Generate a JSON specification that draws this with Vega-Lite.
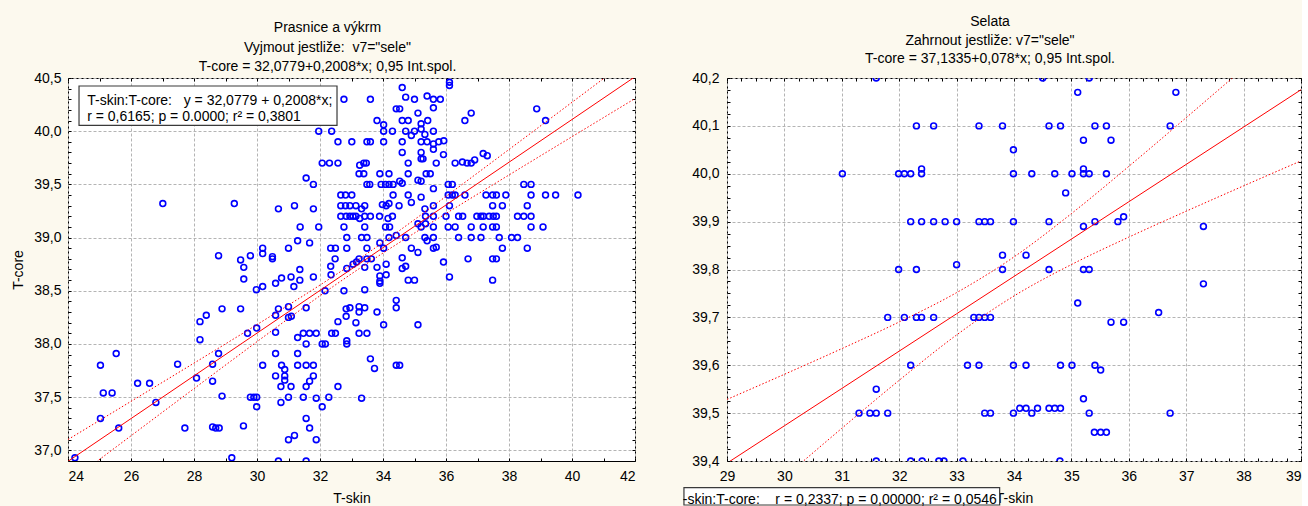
{
"$schema": "https://vega.github.io/schema/vega-lite/v6.json",
"background": "#fcf9ee",
"padding": {"left": 11, "top": 14, "right": 0, "bottom": 0},
"spacing": 46,
"datasets": {
"left_pts": [
{"skin":32.76,"core":40.3},{"skin":31.96,"core":40.0},{"skin":32.37,"core":40.0},{"skin":32.57,"core":39.9},{"skin":32.07,"core":39.7},{"skin":32.30,"core":39.7},{"skin":32.57,"core":39.7},{"skin":31.56,"core":39.56},{"skin":31.79,"core":39.5},{"skin":32.66,"core":39.4},{"skin":32.81,"core":39.4},{"skin":32.66,"core":39.3},{"skin":32.81,"core":39.3},{"skin":32.66,"core":39.2},{"skin":32.83,"core":39.2},{"skin":27.01,"core":39.32},{"skin":29.28,"core":39.32},{"skin":30.68,"core":39.27},{"skin":31.19,"core":39.3},{"skin":31.79,"core":39.27},{"skin":31.37,"core":39.1},{"skin":31.96,"core":39.1},{"skin":32.76,"core":39.1},{"skin":32.85,"core":39.0},{"skin":31.29,"core":38.97},{"skin":31.67,"core":38.95},{"skin":31.0,"core":38.9},{"skin":32.34,"core":38.9},{"skin":32.49,"core":38.9},{"skin":32.85,"core":38.9},{"skin":30.18,"core":38.9},{"skin":30.18,"core":38.85},{"skin":30.49,"core":38.8},{"skin":30.49,"core":38.82},{"skin":29.79,"core":38.83},{"skin":29.48,"core":38.79},{"skin":28.78,"core":38.83},{"skin":29.58,"core":38.72},{"skin":29.58,"core":38.61},{"skin":32.48,"core":38.8},{"skin":32.34,"core":38.73},{"skin":32.85,"core":38.71},{"skin":31.36,"core":38.7},{"skin":31.08,"core":38.63},{"skin":31.36,"core":38.6},{"skin":31.79,"core":38.63},{"skin":30.78,"core":38.62},{"skin":30.59,"core":38.57},{"skin":30.18,"core":38.54},{"skin":29.98,"core":38.51},{"skin":31.17,"core":38.54},{"skin":32.35,"core":38.65},{"skin":32.16,"core":38.5},{"skin":32.76,"core":38.5},{"skin":28.89,"core":38.33},{"skin":29.48,"core":38.33},{"skin":28.39,"core":38.27},{"skin":28.19,"core":38.21},{"skin":28.19,"core":38.04},{"skin":30.68,"core":38.33},{"skin":31.0,"core":38.35},{"skin":31.0,"core":38.25},{"skin":31.09,"core":38.26},{"skin":30.59,"core":38.27},{"skin":31.56,"core":38.34},{"skin":30.59,"core":38.11},{"skin":29.7,"core":38.1},{"skin":29.99,"core":38.15},{"skin":31.29,"core":38.06},{"skin":31.47,"core":38.1},{"skin":31.67,"core":38.1},{"skin":31.88,"core":38.1},{"skin":31.56,"core":38.0},{"skin":32.07,"core":38.0},{"skin":32.17,"core":38.0},{"skin":32.37,"core":38.1},{"skin":32.49,"core":38.1},{"skin":32.57,"core":38.21},{"skin":32.83,"core":38.26},{"skin":32.83,"core":38.33},{"skin":32.85,"core":38.03},{"skin":32.85,"core":38.0},{"skin":25.53,"core":37.91},{"skin":25.03,"core":37.8},{"skin":27.48,"core":37.81},{"skin":28.78,"core":37.91},{"skin":28.59,"core":37.81},{"skin":30.59,"core":37.91},{"skin":31.29,"core":37.91},{"skin":30.18,"core":37.8},{"skin":30.78,"core":37.8},{"skin":31.29,"core":37.8},{"skin":31.56,"core":37.8},{"skin":31.79,"core":37.8},{"skin":30.88,"core":37.76},{"skin":30.59,"core":37.7},{"skin":30.88,"core":37.7},{"skin":30.88,"core":37.66},{"skin":31.79,"core":37.7},{"skin":31.67,"core":37.65},{"skin":28.08,"core":37.68},{"skin":28.59,"core":37.65},{"skin":26.21,"core":37.63},{"skin":26.59,"core":37.63},{"skin":25.12,"core":37.54},{"skin":25.4,"core":37.54},{"skin":26.79,"core":37.45},{"skin":28.89,"core":37.51},{"skin":29.79,"core":37.5},{"skin":29.9,"core":37.5},{"skin":29.99,"core":37.5},{"skin":29.99,"core":37.41},{"skin":30.76,"core":37.6},{"skin":31.08,"core":37.6},{"skin":31.56,"core":37.6},{"skin":32.57,"core":37.6},{"skin":31.0,"core":37.5},{"skin":30.76,"core":37.45},{"skin":31.47,"core":37.5},{"skin":31.88,"core":37.49},{"skin":32.28,"core":37.5},{"skin":32.07,"core":37.41},{"skin":25.03,"core":37.3},{"skin":25.61,"core":37.21},{"skin":27.71,"core":37.21},{"skin":28.59,"core":37.22},{"skin":28.69,"core":37.21},{"skin":28.8,"core":37.21},{"skin":29.57,"core":37.23},{"skin":31.56,"core":37.3},{"skin":31.67,"core":37.21},{"skin":31.0,"core":37.1},{"skin":31.19,"core":37.14},{"skin":31.88,"core":37.1},{"skin":24.22,"core":36.93},{"skin":29.2,"core":36.93},{"skin":30.68,"core":36.9},{"skin":31.56,"core":36.9},
{"skin":33.6,"core":40.3},{"skin":34.61,"core":40.41},{"skin":36.11,"core":40.46},{"skin":36.11,"core":40.43},{"skin":34.72,"core":40.32},{"skin":35.0,"core":40.3},{"skin":35.4,"core":40.33},{"skin":35.6,"core":40.3},{"skin":35.82,"core":40.3},{"skin":35.6,"core":40.22},{"skin":34.42,"core":40.21},{"skin":34.53,"core":40.21},{"skin":35.11,"core":40.17},{"skin":33.81,"core":40.1},{"skin":34.02,"core":40.06},{"skin":34.02,"core":40.0},{"skin":34.3,"core":40.0},{"skin":34.61,"core":40.1},{"skin":34.8,"core":40.1},{"skin":34.72,"core":40.0},{"skin":34.9,"core":39.96},{"skin":35.0,"core":40.0},{"skin":35.21,"core":40.07},{"skin":35.21,"core":40.02},{"skin":35.33,"core":39.97},{"skin":35.42,"core":40.1},{"skin":35.6,"core":40.0},{"skin":33.01,"core":39.9},{"skin":33.49,"core":39.9},{"skin":33.6,"core":39.9},{"skin":34.02,"core":39.9},{"skin":34.61,"core":39.9},{"skin":35.21,"core":39.9},{"skin":35.4,"core":39.9},{"skin":35.6,"core":39.88},{"skin":35.77,"core":39.9},{"skin":35.93,"core":39.91},{"skin":35.6,"core":39.83},{"skin":34.61,"core":39.8},{"skin":35.21,"core":39.8},{"skin":35.21,"core":39.74},{"skin":35.27,"core":39.74},{"skin":34.8,"core":39.7},{"skin":35.69,"core":39.7},{"skin":35.92,"core":39.78},{"skin":36.29,"core":39.7},{"skin":36.52,"core":39.71},{"skin":36.67,"core":39.7},{"skin":36.8,"core":39.7},{"skin":36.91,"core":39.73},{"skin":37.18,"core":39.79},{"skin":37.31,"core":39.77},{"skin":36.6,"core":40.1},{"skin":36.8,"core":40.17},{"skin":38.88,"core":40.21},{"skin":39.16,"core":40.1},{"skin":33.39,"core":39.7},{"skin":33.47,"core":39.7},{"skin":33.26,"core":39.68},{"skin":33.24,"core":39.6},{"skin":33.39,"core":39.6},{"skin":33.9,"core":39.6},{"skin":34.19,"core":39.6},{"skin":34.8,"core":39.6},{"skin":35.37,"core":39.6},{"skin":35.5,"core":39.6},{"skin":33.49,"core":39.5},{"skin":33.58,"core":39.5},{"skin":33.94,"core":39.5},{"skin":34.08,"core":39.5},{"skin":34.19,"core":39.5},{"skin":34.32,"core":39.5},{"skin":34.53,"core":39.53},{"skin":34.61,"core":39.51},{"skin":35.11,"core":39.54},{"skin":35.21,"core":39.53},{"skin":35.6,"core":39.46},{"skin":33.01,"core":39.4},{"skin":34.32,"core":39.4},{"skin":34.8,"core":39.4},{"skin":34.9,"core":39.33},{"skin":35.21,"core":39.38},{"skin":36.07,"core":39.5},{"skin":36.2,"core":39.5},{"skin":36.07,"core":39.4},{"skin":36.2,"core":39.4},{"skin":36.29,"core":39.4},{"skin":36.6,"core":39.4},{"skin":37.27,"core":39.4},{"skin":37.48,"core":39.4},{"skin":37.6,"core":39.4},{"skin":37.9,"core":39.4},{"skin":38.47,"core":39.5},{"skin":38.7,"core":39.5},{"skin":38.7,"core":39.4},{"skin":39.16,"core":39.4},{"skin":39.48,"core":39.4},{"skin":40.19,"core":39.4},{"skin":32.95,"core":39.3},{"skin":33.14,"core":39.3},{"skin":33.32,"core":39.27},{"skin":33.42,"core":39.3},{"skin":33.98,"core":39.31},{"skin":34.1,"core":39.3},{"skin":34.19,"core":39.32},{"skin":34.51,"core":39.3},{"skin":35.33,"core":39.27},{"skin":35.6,"core":39.3},{"skin":36.11,"core":39.3},{"skin":37.48,"core":39.3},{"skin":37.79,"core":39.3},{"skin":38.58,"core":39.3},{"skin":32.95,"core":39.2},{"skin":33.05,"core":39.2},{"skin":33.14,"core":39.2},{"skin":33.26,"core":39.18},{"skin":33.42,"core":39.2},{"skin":33.6,"core":39.2},{"skin":33.89,"core":39.2},{"skin":34.16,"core":39.18},{"skin":34.3,"core":39.2},{"skin":35.35,"core":39.2},{"skin":35.6,"core":39.2},{"skin":36.0,"core":39.2},{"skin":36.4,"core":39.2},{"skin":36.53,"core":39.2},{"skin":36.98,"core":39.2},{"skin":37.11,"core":39.2},{"skin":37.19,"core":39.2},{"skin":37.37,"core":39.2},{"skin":37.5,"core":39.2},{"skin":37.6,"core":39.2},{"skin":38.27,"core":39.2},{"skin":38.47,"core":39.2},{"skin":38.7,"core":39.2},{"skin":33.42,"core":39.1},{"skin":34.08,"core":39.1},{"skin":34.21,"core":39.1},{"skin":35.11,"core":39.13},{"skin":35.21,"core":39.1},{"skin":35.35,"core":39.13},{"skin":35.6,"core":39.1},{"skin":36.07,"core":39.1},{"skin":36.29,"core":39.1},{"skin":36.8,"core":39.1},{"skin":37.18,"core":39.1},{"skin":37.48,"core":39.1},{"skin":37.6,"core":39.1},{"skin":38.7,"core":39.1},{"skin":39.08,"core":39.1},{"skin":33.32,"core":39.0},{"skin":33.49,"core":39.0},{"skin":34.19,"core":39.0},{"skin":34.42,"core":39.02},{"skin":34.72,"core":39.0},{"skin":35.33,"core":39.0},{"skin":35.6,"core":39.0},{"skin":36.4,"core":39.0},{"skin":36.8,"core":39.0},{"skin":37.11,"core":39.0},{"skin":37.69,"core":39.0},{"skin":38.08,"core":39.0},{"skin":38.27,"core":39.0},{"skin":35.4,"core":38.97},{"skin":33.9,"core":38.95},{"skin":33.49,"core":38.9},{"skin":34.02,"core":38.9},{"skin":34.9,"core":38.9},{"skin":35.11,"core":38.86},{"skin":35.6,"core":38.9},{"skin":35.69,"core":38.91},{"skin":37.79,"core":38.9},{"skin":38.58,"core":38.9},{"skin":33.24,"core":38.8},{"skin":33.16,"core":38.77},{"skin":33.49,"core":38.8},{"skin":33.63,"core":38.8},{"skin":33.05,"core":38.75},{"skin":33.42,"core":38.72},{"skin":34.1,"core":38.75},{"skin":34.61,"core":38.81},{"skin":34.61,"core":38.71},{"skin":34.72,"core":38.73},{"skin":35.92,"core":38.77},{"skin":36.7,"core":38.8},{"skin":37.48,"core":38.8},{"skin":37.6,"core":38.8},{"skin":33.81,"core":38.72},{"skin":33.9,"core":38.64},{"skin":33.9,"core":38.59},{"skin":33.9,"core":38.57},{"skin":34.1,"core":38.65},{"skin":34.8,"core":38.6},{"skin":35.0,"core":38.6},{"skin":36.11,"core":38.63},{"skin":37.48,"core":38.6},{"skin":33.42,"core":38.51},{"skin":32.95,"core":38.34},{"skin":33.24,"core":38.35},{"skin":33.24,"core":38.3},{"skin":33.42,"core":38.34},{"skin":33.14,"core":38.2},{"skin":33.81,"core":38.3},{"skin":34.42,"core":38.41},{"skin":34.42,"core":38.34},{"skin":34.02,"core":38.18},{"skin":35.11,"core":38.18},{"skin":33.24,"core":38.1},{"skin":33.49,"core":38.1},{"skin":33.6,"core":37.86},{"skin":33.73,"core":37.77},{"skin":34.42,"core":37.8},{"skin":34.53,"core":37.8},{"skin":33.32,"core":37.49}
],
"right_pts": [
{"skin":31.6,"core":40.2},{"skin":32.3,"core":40.1},{"skin":32.6,"core":40.1},{"skin":33.39,"core":40.1},{"skin":33.8,"core":40.1},{"skin":33.99,"core":40.05},{"skin":31.01,"core":40.0},{"skin":31.99,"core":40.0},{"skin":32.09,"core":40.0},{"skin":32.2,"core":40.0},{"skin":32.39,"core":40.01},{"skin":32.39,"core":40.0},{"skin":33.99,"core":40.0},{"skin":32.2,"core":39.9},{"skin":32.39,"core":39.9},{"skin":32.6,"core":39.9},{"skin":32.8,"core":39.9},{"skin":33.0,"core":39.9},{"skin":33.39,"core":39.9},{"skin":33.49,"core":39.9},{"skin":33.59,"core":39.9},{"skin":33.99,"core":39.9},{"skin":33.8,"core":39.83},{"skin":31.99,"core":39.8},{"skin":32.3,"core":39.8},{"skin":33.0,"core":39.81},{"skin":33.8,"core":39.8},{"skin":31.8,"core":39.7},{"skin":32.09,"core":39.7},{"skin":32.3,"core":39.7},{"skin":32.39,"core":39.7},{"skin":32.6,"core":39.7},{"skin":33.3,"core":39.7},{"skin":33.39,"core":39.7},{"skin":33.49,"core":39.7},{"skin":33.59,"core":39.7},{"skin":32.2,"core":39.6},{"skin":33.19,"core":39.6},{"skin":33.39,"core":39.6},{"skin":33.99,"core":39.6},{"skin":31.6,"core":39.55},{"skin":31.3,"core":39.5},{"skin":31.49,"core":39.5},{"skin":31.6,"core":39.5},{"skin":31.8,"core":39.5},{"skin":33.49,"core":39.5},{"skin":33.59,"core":39.5},{"skin":33.99,"core":39.5},{"skin":31.6,"core":39.4},{"skin":32.2,"core":39.4},{"skin":32.4,"core":39.4},{"skin":32.69,"core":39.4},{"skin":32.78,"core":39.4},{"skin":33.11,"core":39.4},{"skin":34.8,"core":39.4},
{"skin":34.5,"core":40.2},{"skin":35.31,"core":40.2},{"skin":35.11,"core":40.17},{"skin":36.82,"core":40.17},{"skin":34.61,"core":40.1},{"skin":34.81,"core":40.1},{"skin":35.41,"core":40.1},{"skin":35.61,"core":40.1},{"skin":36.72,"core":40.1},{"skin":35.21,"core":40.07},{"skin":35.69,"core":40.07},{"skin":34.31,"core":40.0},{"skin":34.71,"core":40.0},{"skin":35.01,"core":40.0},{"skin":35.21,"core":40.0},{"skin":35.31,"core":40.0},{"skin":35.61,"core":40.0},{"skin":35.21,"core":40.01},{"skin":34.9,"core":39.96},{"skin":34.61,"core":39.9},{"skin":35.41,"core":39.9},{"skin":35.81,"core":39.9},{"skin":35.21,"core":39.89},{"skin":35.91,"core":39.91},{"skin":37.3,"core":39.89},{"skin":34.21,"core":39.83},{"skin":34.61,"core":39.8},{"skin":35.21,"core":39.8},{"skin":35.31,"core":39.8},{"skin":37.3,"core":39.77},{"skin":35.11,"core":39.73},{"skin":36.52,"core":39.71},{"skin":35.69,"core":39.69},{"skin":35.91,"core":39.69},{"skin":34.21,"core":39.6},{"skin":34.81,"core":39.6},{"skin":35.01,"core":39.6},{"skin":35.41,"core":39.6},{"skin":35.51,"core":39.59},{"skin":35.21,"core":39.53},{"skin":34.1,"core":39.51},{"skin":34.21,"core":39.51},{"skin":34.41,"core":39.51},{"skin":34.61,"core":39.51},{"skin":34.71,"core":39.51},{"skin":34.81,"core":39.51},{"skin":34.31,"core":39.5},{"skin":35.31,"core":39.5},{"skin":36.72,"core":39.5},{"skin":35.4,"core":39.46},{"skin":35.51,"core":39.46},{"skin":35.61,"core":39.46}
],
"left_fit": [
{"skin":24,"fit":36.8971,"lo":36.6923,"hi":37.1019},{"skin":26,"fit":37.2987,"lo":37.1369,"hi":37.4605},{"skin":28,"fit":37.7003,"lo":37.5805,"hi":37.8201},{"skin":30,"fit":38.1019,"lo":38.0215,"hi":38.1823},{"skin":31,"fit":38.3027,"lo":38.2395,"hi":38.3659},{"skin":32,"fit":38.5035,"lo":38.4533,"hi":38.5537},{"skin":33,"fit":38.7043,"lo":38.6593,"hi":38.7493},{"skin":34,"fit":38.9051,"lo":38.8549,"hi":38.9553},{"skin":35,"fit":39.1059,"lo":39.0427,"hi":39.1691},{"skin":36,"fit":39.3067,"lo":39.2263,"hi":39.3871},{"skin":38,"fit":39.7083,"lo":39.5885,"hi":39.8281},{"skin":40,"fit":40.1099,"lo":39.9481,"hi":40.2717},{"skin":42,"fit":40.5115,"lo":40.3067,"hi":40.7163}
],
"right_fit": [
{"skin":29,"fit":39.3955,"lo":39.2624,"hi":39.5286},{"skin":30,"fit":39.4735,"lo":39.3659,"hi":39.5811},{"skin":31,"fit":39.5515,"lo":39.4683,"hi":39.6347},{"skin":32,"fit":39.6295,"lo":39.5686,"hi":39.6904},{"skin":33,"fit":39.7075,"lo":39.6633,"hi":39.7517},{"skin":34,"fit":39.7855,"lo":39.7447,"hi":39.8263},{"skin":35,"fit":39.8635,"lo":39.8103,"hi":39.9167},{"skin":36,"fit":39.9415,"lo":39.8676,"hi":40.0154},{"skin":37,"fit":40.0195,"lo":39.9218,"hi":40.1172},{"skin":38,"fit":40.0975,"lo":39.9747,"hi":40.2203},{"skin":39,"fit":40.1755,"lo":40.0269,"hi":40.3241}
],
"left_note": [{"note": "T-skin:T-core:\u00a0\u00a0\u00a0y = 32,0779 + 0,2008*x;\nr = 0,6165; p = 0.0000; r² = 0,3801"}],
"right_note": [{"note": "-skin:T-core:\u00a0\u00a0\u00a0\u00a0r = 0,2337; p = 0,00000; r² = 0,0546"}]
},
"hconcat": [
{
"width": 567, "height": 383,
"title": {"text": ["Prasnice a výkrm", "Vyjmout jestliže:\u00a0\u00a0v7=\"sele\"", "T-core = 32,0779+0,2008*x; 0,95 Int.spol."], "lineHeight": 19.5, "offset": 0, "dx": -24, "dy": 3},
"resolve": {"axis": {"x": "independent", "y": "independent"}},
"layer": [
{"data": {"name": "left_pts"},
 "mark": {"type": "point", "shape": "circle", "filled": false, "size": 34, "strokeWidth": 1.6, "color": "#0000ff", "opacity": 1, "clip": true},
 "encoding": {
  "x": {"field": "skin", "type": "quantitative", "scale": {"domain": [24, 42], "nice": false, "zero": false},
        "axis": {"orient": "bottom", "title": "T-skin", "values": [24,25,26,27,28,29,30,31,32,33,34,35,36,37,38,39,40,41,42],
                 "labelExpr": "datum.value % 2 == 0 ? format(datum.value, 'd') : ''",
                 "gridOpacity": {"condition": {"test": "datum.value % 2 == 0", "value": 1}, "value": 0},
                 "tickSize": -3, "labelPadding": 11, "titlePadding": 8, "zindex": 0}},
  "y": {"field": "core", "type": "quantitative", "scale": {"domain": [36.9, 40.5], "nice": false, "zero": false},
        "axis": {"orient": "left", "title": "T-core", "values": [36.9,37,37.1,37.2,37.3,37.4,37.5,37.6,37.7,37.8,37.9,38,38.1,38.2,38.3,38.4,38.5,38.6,38.7,38.8,38.9,39,39.1,39.2,39.3,39.4,39.5,39.6,39.7,39.8,39.9,40,40.1,40.2,40.3,40.4,40.5],
                 "labelExpr": "abs(datum.value*2 - round(datum.value*2)) < 0.001 ? replace(format(datum.value, '.1f'), '.', ',') : ''",
                 "gridOpacity": {"condition": {"test": "abs(datum.value*2 - round(datum.value*2)) < 0.001", "value": 1}, "value": 0},
                 "tickSize": -3, "labelPadding": 10, "titlePadding": 8, "zindex": 0}}
 }},
{"data": {"name": "left_fit"},
 "mark": {"type": "line", "color": "#ff0000", "strokeWidth": 1, "clip": true},
 "encoding": {
  "x": {"field": "skin", "type": "quantitative", "scale": {"domain": [24, 42], "nice": false, "zero": false},
        "axis": {"orient": "top", "title": null, "labels": false, "grid": false, "tickSize": -3, "values": [24,25,26,27,28,29,30,31,32,33,34,35,36,37,38,39,40,41,42]}},
  "y": {"field": "fit", "type": "quantitative", "scale": {"domain": [36.9, 40.5], "nice": false, "zero": false},
        "axis": {"orient": "right", "title": null, "labels": false, "grid": false, "tickSize": -3, "values": [36.9,37,37.1,37.2,37.3,37.4,37.5,37.6,37.7,37.8,37.9,38,38.1,38.2,38.3,38.4,38.5,38.6,38.7,38.8,38.9,39,39.1,39.2,39.3,39.4,39.5,39.6,39.7,39.8,39.9,40,40.1,40.2,40.3,40.4,40.5]}}
 }},
{"data": {"name": "left_fit"},
 "mark": {"type": "line", "color": "#ff0000", "strokeWidth": 1, "strokeDash": [1.5, 2], "interpolate": "monotone", "clip": true},
 "encoding": {
  "x": {"field": "skin", "type": "quantitative", "scale": {"domain": [24, 42], "nice": false, "zero": false}, "axis": null},
  "y": {"field": "lo", "type": "quantitative", "scale": {"domain": [36.9, 40.5], "nice": false, "zero": false}, "axis": null}
 }},
{"data": {"name": "left_fit"},
 "mark": {"type": "line", "color": "#ff0000", "strokeWidth": 1, "strokeDash": [1.5, 2], "interpolate": "monotone", "clip": true},
 "encoding": {
  "x": {"field": "skin", "type": "quantitative", "scale": {"domain": [24, 42], "nice": false, "zero": false}, "axis": null},
  "y": {"field": "hi", "type": "quantitative", "scale": {"domain": [36.9, 40.5], "nice": false, "zero": false}, "axis": null}
 }},
{"data": {"name": "left_note"},
 "mark": {"type": "rect", "fill": "#ffffff", "stroke": "#3a3a3a", "strokeWidth": 1.2},
 "encoding": {
  "x": {"datum": 24.35, "type": "quantitative", "scale": {"domain": [24, 42], "nice": false, "zero": false}, "axis": null},
  "x2": {"datum": 32.54},
  "y": {"datum": 40.4248, "type": "quantitative", "scale": {"domain": [36.9, 40.5], "nice": false, "zero": false}, "axis": null},
  "y2": {"datum": 40.0554}
 }},
{"data": {"name": "left_note"},
 "mark": {"type": "text", "align": "left", "baseline": "middle", "lineBreak": "\n", "lineHeight": 16.6, "fontSize": 14, "font": "Liberation Sans", "color": "#000"},
 "encoding": {
  "x": {"datum": 24.61, "type": "quantitative", "scale": {"domain": [24, 42], "nice": false, "zero": false}, "axis": null},
  "y": {"datum": 40.288, "type": "quantitative", "scale": {"domain": [36.9, 40.5], "nice": false, "zero": false}, "axis": null},
  "text": {"field": "note", "type": "nominal"}
 }}
]
},
{
"width": 574, "height": 383,
"title": {"text": ["Selata", "Zahrnout jestliže: v7=\"sele\"", "T-core = 37,1335+0,078*x; 0,95 Int.spol."], "lineHeight": 18.5, "offset": 5, "dx": -24},
"resolve": {"axis": {"x": "independent", "y": "independent"}},
"layer": [
{"data": {"name": "right_pts"},
 "mark": {"type": "point", "shape": "circle", "filled": false, "size": 34, "strokeWidth": 1.6, "color": "#0000ff", "opacity": 1, "clip": true},
 "encoding": {
  "x": {"field": "skin", "type": "quantitative", "scale": {"domain": [29, 39], "nice": false, "zero": false},
        "axis": {"orient": "bottom", "title": "T-skin", "values": [29,29.25,29.5,29.75,30,30.25,30.5,30.75,31,31.25,31.5,31.75,32,32.25,32.5,32.75,33,33.25,33.5,33.75,34,34.25,34.5,34.75,35,35.25,35.5,35.75,36,36.25,36.5,36.75,37,37.25,37.5,37.75,38,38.25,38.5,38.75,39],
                 "labelExpr": "abs(datum.value - round(datum.value)) < 0.001 ? format(datum.value, '.0f') : ''",
                 "labelAlign": {"condition": {"test": "datum.value > 38.9", "value": "right"}, "value": "center"},
                 "gridOpacity": {"condition": {"test": "abs(datum.value - round(datum.value)) < 0.001", "value": 1}, "value": 0},
                 "tickSize": -3, "labelPadding": 11, "titlePadding": 8, "zindex": 0}},
  "y": {"field": "core", "type": "quantitative", "scale": {"domain": [39.4, 40.2], "nice": false, "zero": false},
        "axis": {"orient": "left", "title": null, "values": [39.4,39.425,39.45,39.475,39.5,39.525,39.55,39.575,39.6,39.625,39.65,39.675,39.7,39.725,39.75,39.775,39.8,39.825,39.85,39.875,39.9,39.925,39.95,39.975,40,40.025,40.05,40.075,40.1,40.125,40.15,40.175,40.2],
                 "labelExpr": "abs(datum.value*10 - round(datum.value*10)) < 0.001 ? replace(format(datum.value, '.1f'), '.', ',') : ''",
                 "gridOpacity": {"condition": {"test": "abs(datum.value*10 - round(datum.value*10)) < 0.001", "value": 1}, "value": 0},
                 "tickSize": -3, "labelPadding": 11, "zindex": 0}}
 }},
{"data": {"name": "right_fit"},
 "mark": {"type": "line", "color": "#ff0000", "strokeWidth": 1, "clip": true},
 "encoding": {
  "x": {"field": "skin", "type": "quantitative", "scale": {"domain": [29, 39], "nice": false, "zero": false},
        "axis": {"orient": "top", "title": null, "labels": false, "grid": false, "tickSize": -3, "values": [29,29.25,29.5,29.75,30,30.25,30.5,30.75,31,31.25,31.5,31.75,32,32.25,32.5,32.75,33,33.25,33.5,33.75,34,34.25,34.5,34.75,35,35.25,35.5,35.75,36,36.25,36.5,36.75,37,37.25,37.5,37.75,38,38.25,38.5,38.75,39]}},
  "y": {"field": "fit", "type": "quantitative", "scale": {"domain": [39.4, 40.2], "nice": false, "zero": false},
        "axis": {"orient": "right", "title": null, "labels": false, "grid": false, "tickSize": -3, "values": [39.4,39.425,39.45,39.475,39.5,39.525,39.55,39.575,39.6,39.625,39.65,39.675,39.7,39.725,39.75,39.775,39.8,39.825,39.85,39.875,39.9,39.925,39.95,39.975,40,40.025,40.05,40.075,40.1,40.125,40.15,40.175,40.2]}}
 }},
{"data": {"name": "right_fit"},
 "mark": {"type": "line", "color": "#ff0000", "strokeWidth": 1, "strokeDash": [1.5, 2], "interpolate": "monotone", "clip": true},
 "encoding": {
  "x": {"field": "skin", "type": "quantitative", "scale": {"domain": [29, 39], "nice": false, "zero": false}, "axis": null},
  "y": {"field": "lo", "type": "quantitative", "scale": {"domain": [39.4, 40.2], "nice": false, "zero": false}, "axis": null}
 }},
{"data": {"name": "right_fit"},
 "mark": {"type": "line", "color": "#ff0000", "strokeWidth": 1, "strokeDash": [1.5, 2], "interpolate": "monotone", "clip": true},
 "encoding": {
  "x": {"field": "skin", "type": "quantitative", "scale": {"domain": [29, 39], "nice": false, "zero": false}, "axis": null},
  "y": {"field": "hi", "type": "quantitative", "scale": {"domain": [39.4, 40.2], "nice": false, "zero": false}, "axis": null}
 }},
{"data": {"name": "right_note"},
 "mark": {"type": "rect", "fill": "#ffffff", "stroke": "#3a3a3a", "strokeWidth": 1.2},
 "encoding": {
  "x": {"datum": 28.25, "type": "quantitative", "scale": {"domain": [29, 39], "nice": false, "zero": false}, "axis": null},
  "x2": {"datum": 33.75},
  "y": {"datum": 39.3442, "type": "quantitative", "scale": {"domain": [39.4, 40.2], "nice": false, "zero": false}, "axis": null},
  "y2": {"datum": 39.3081}
 }},
{"data": {"name": "right_note"},
 "mark": {"type": "text", "align": "right", "baseline": "middle", "fontSize": 14, "font": "Liberation Sans", "color": "#000"},
 "encoding": {
  "x": {"datum": 33.70, "type": "quantitative", "scale": {"domain": [29, 39], "nice": false, "zero": false}, "axis": null},
  "y": {"datum": 39.3185, "type": "quantitative", "scale": {"domain": [39.4, 40.2], "nice": false, "zero": false}, "axis": null},
  "text": {"field": "note", "type": "nominal"}
 }}
]
}
],
"config": {
 "font": "Liberation Sans",
 "view": {"stroke": "#000000", "strokeWidth": 1, "fill": "#ffffff"},
 "axis": {"labelFont": "Liberation Sans", "labelFontSize": 14, "labelColor": "#000", "titleFont": "Liberation Sans", "titleFontSize": 14, "titleFontWeight": "normal", "titleColor": "#000",
          "gridColor": "#b4b4b4", "gridDash": [3, 2], "gridWidth": 1, "tickColor": "#000", "tickWidth": 1, "domain": false, "labelOverlap": false, "labelBound": false},
 "title": {"font": "Liberation Sans", "fontSize": 14, "fontWeight": "normal", "color": "#000", "anchor": "middle"}
}
}
